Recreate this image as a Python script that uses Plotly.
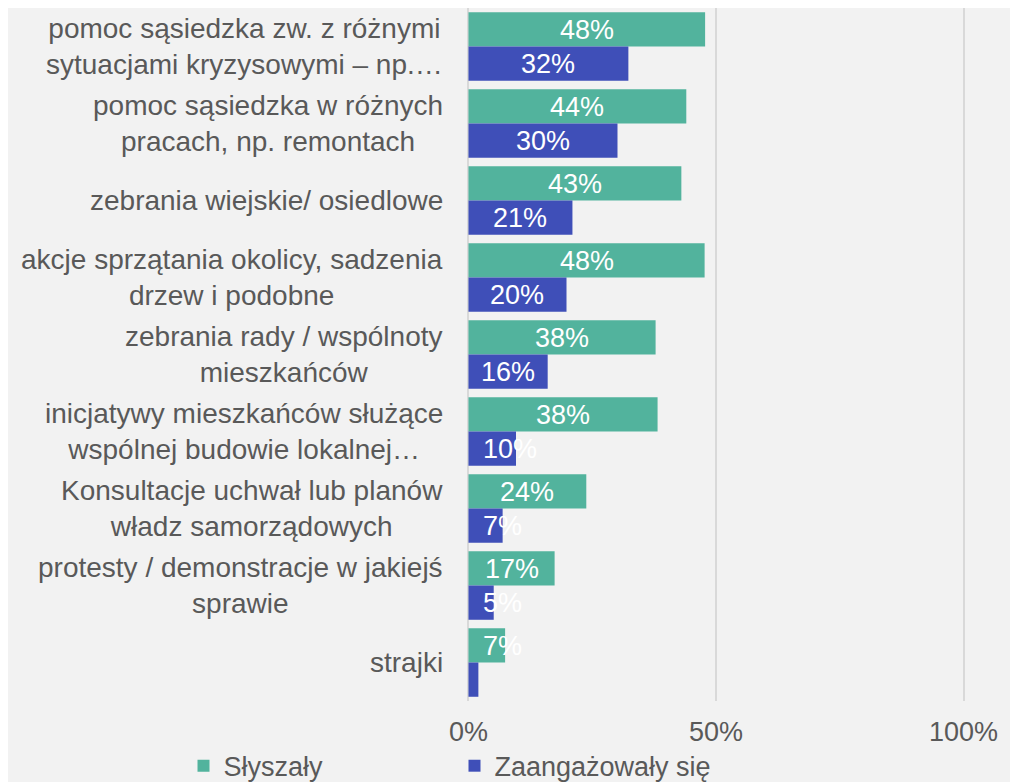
import plotly.graph_objects as go

categories = [
    "pomoc sąsiedzka zw. z różnymi<br>sytuacjami kryzysowymi – np.…",
    "pomoc sąsiedzka w różnych<br>pracach, np. remontach",
    "zebrania wiejskie/ osiedlowe",
    "akcje sprzątania okolicy, sadzenia<br>drzew i podobne",
    "zebrania rady / wspólnoty<br>mieszkańców",
    "inicjatywy mieszkańców służące<br>wspólnej budowie lokalnej…",
    "Konsultacje uchwał lub planów<br>władz samorządowych",
    "protesty / demonstracje w jakiejś<br>sprawie",
    "strajki",
]
heard = [47.8, 44.0, 43.0, 47.7, 37.8, 38.2, 23.8, 17.4, 7.4]
engaged = [32.3, 30.1, 21.0, 19.8, 16.0, 9.6, 6.9, 5.1, 2.0]
series_names = ["Słyszały", "Zaangażowały się"]
x_ticks = [0, 50, 100]
x_tick_labels = ["0%", "50%", "100%"]

GREEN = "#52B39D"
BLUE = "#3F4FB8"
GREY = "#595959"
FONT = "Liberation Sans, Arial, sans-serif"
FS = 27

fig = go.Figure()
fig.add_trace(go.Bar(y=categories, x=heard, orientation="h", name=series_names[0],
                     marker=dict(color=GREEN, line=dict(width=0))))
fig.add_trace(go.Bar(y=categories, x=engaged, orientation="h", name=series_names[1],
                     marker=dict(color=BLUE, line=dict(width=0))))

annotations = []
# category labels (right aligned block, centered lines)
for c in categories:
    annotations.append(dict(x=0, xref="x", y=c, yref="y", text=c, showarrow=False,
                            xanchor="right", yanchor="middle", align="center", xshift=-23,
                            font=dict(family=FONT, size=28, color=GREY)))
# data labels
for vals, shift in ((heard, 17), (engaged, -17)):
    for c, v in zip(categories, vals):
        if v < 3:
            continue
        if v < 12:
            annotations.append(dict(x=0, y=c, xref="x", yref="y", text=f"{v:.0f}%", showarrow=False,
                                    xanchor="left", yanchor="middle", xshift=13, yshift=shift,
                                    font=dict(family=FONT, size=FS, color="white")))
        else:
            annotations.append(dict(x=v / 2, y=c, xref="x", yref="y", text=f"{v:.0f}%", showarrow=False,
                                    xanchor="center", yanchor="middle", yshift=shift,
                                    font=dict(family=FONT, size=FS, color="white")))

fig.update_layout(
    width=1010, height=774,
    margin=dict(l=458, r=52, t=0, b=81, autoexpand=False),
    paper_bgcolor="#F2F2F2", plot_bgcolor="#F2F2F2",
    barmode="group", bargap=0.11, bargroupgap=0,
    font=dict(family=FONT, size=FS, color=GREY),
    xaxis=dict(range=[-0.5, 100.5], tickvals=x_ticks, ticktext=x_tick_labels, showgrid=True,
               gridcolor="#D9D9D9", gridwidth=1.5, zeroline=False, showline=False,
               tickfont=dict(family=FONT, size=FS, color=GREY), ticks="", ticklabelstandoff=12,
               fixedrange=True),
    yaxis=dict(autorange="reversed", showticklabels=False, showgrid=False, zeroline=False,
               showline=False, ticks=""),
    showlegend=True,
    legend=dict(orientation="h", x=-0.565, y=-0.094, xanchor="left", yanchor="middle",
                entrywidth=226, entrywidthmode="pixels",
                font=dict(family=FONT, size=FS, color=GREY), bgcolor="rgba(0,0,0,0)",
                traceorder="normal"),
    annotations=annotations,
)

fig.write_html("out.html")
